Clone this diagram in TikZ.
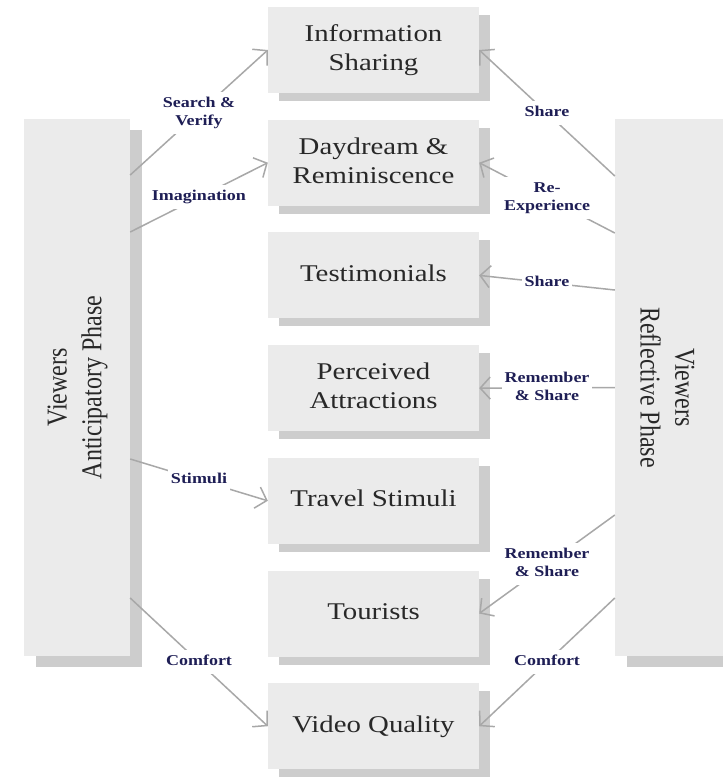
\documentclass[tikz,border=0pt]{standalone}
\usepackage{fontspec}
\setmainfont{Liberation Serif}
\usetikzlibrary{arrows.meta,shadows}
\definecolor{boxfill}{RGB}{235,235,235}
\definecolor{shadowc}{RGB}{205,205,205}
\definecolor{arrowc}{RGB}{168,168,168}
\definecolor{labelc}{RGB}{30,30,85}
\definecolor{textc}{RGB}{40,40,40}
\newcommand{\sx}[1]{\scalebox{1.2}[1]{\begin{tabular}{@{}c@{}}#1\end{tabular}}}
\newcommand{\vx}[2]{\rotatebox{#1}{\scalebox{1}[1.2]{\begin{tabular}{@{}c@{}}#2\end{tabular}}}}
\tikzset{
  midbox/.style={fill=boxfill, minimum width=211pt, minimum height=86pt, inner sep=0pt,
    font=\fontsize{24}{29}\selectfont, text=textc,
    general shadow={fill=shadowc, shadow xshift=11pt, shadow yshift=-8pt}},
  tallbox/.style={fill=boxfill, minimum width=106pt, minimum height=537pt, inner sep=0pt,
    font=\fontsize{24}{29}\selectfont, text=textc,
    general shadow={fill=shadowc, shadow xshift=12pt, shadow yshift=-11pt}},
  conn/.style={draw=arrowc, line width=1.5pt, -{Straight Barb[length=10pt,width=22pt]}},
  lbl/.style={fill=white, inner sep=3pt, text=labelc, font=\bfseries\fontsize{15}{18}\selectfont}
}
\begin{document}
\begin{tikzpicture}[x=1pt,y=-1pt]
\useasboundingbox (0,0) rectangle (723,777);
\clip (0,0) rectangle (723,777);
\fill[white] (0,0) rectangle (723,777);
% tall side boxes
\node[tallbox] (L) at (77,387.5) {\vx{90}{Viewers\\Anticipatory Phase}};
\node[tallbox, minimum width=124pt] (R) at (677,387.5) {\vx{-90}{Viewers\\Reflective Phase}\hspace*{24pt}};
% middle boxes
\node[midbox] (I) at (373.5,50) {\sx{Information\\Sharing}};
\node[midbox] (D) at (373.5,162.7) {\sx{Daydream \&\\Reminiscence}};
\node[midbox] (T) at (373.5,275.4) {\sx{Testimonials}};
\node[midbox] (P) at (373.5,388.1) {\sx{Perceived\\Attractions}};
\node[midbox] (S) at (373.5,500.8) {\sx{Travel Stimuli}};
\node[midbox] (U) at (373.5,613.5) {\sx{Tourists}};
\node[midbox] (V) at (373.5,726.2) {\sx{Video Quality}};
% left connectors
\draw[conn] ([yshift=212.5pt]L.east) -- node[lbl]{\sx{Search \&\\Verify}} (I.west);
\draw[conn] ([yshift=155.5pt]L.east) -- node[lbl]{\sx{Imagination}} (D.west);
\draw[conn] ([yshift=-71.5pt]L.east) -- node[lbl]{\sx{Stimuli}} (S.west);
\draw[conn] ([yshift=-210.5pt]L.east) -- node[lbl]{\sx{Comfort}} (V.west);
% right connectors
\draw[conn] ([yshift=211.5pt]R.west) -- node[lbl]{\sx{Share}} (I.east);
\draw[conn] ([yshift=154.5pt]R.west) -- node[lbl]{\sx{Re-\\Experience}} (D.east);
\draw[conn] ([yshift=97.5pt]R.west) -- node[lbl]{\sx{Share}} (T.east);
\draw[conn] (R.west) -- node[lbl]{\sx{Remember\\\& Share}} (P.east);
\draw[conn] ([yshift=-127.5pt]R.west) -- node[lbl]{\sx{Remember\\\& Share}} (U.east);
\draw[conn] ([yshift=-210.5pt]R.west) -- node[lbl]{\sx{Comfort}} (V.east);
\end{tikzpicture}
\end{document}
